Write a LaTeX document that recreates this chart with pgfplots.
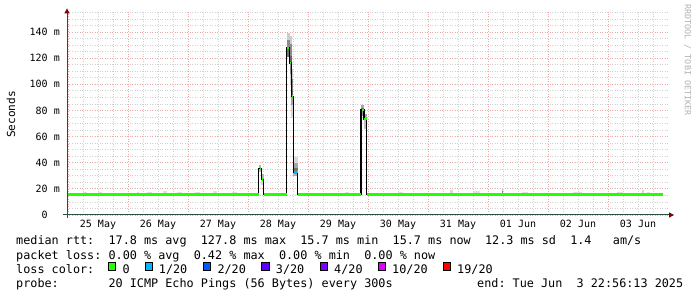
\documentclass[border=0pt]{standalone}
\usepackage{fontspec}
\usepackage{pgfplots}
\pgfplotsset{compat=1.18}
\newfontfamily\dvm{DejaVu Sans Mono}
\definecolor{mgrid}{RGB}{234,168,168}
\definecolor{ngrid}{RGB}{208,208,208}
\definecolor{axiscol}{HTML}{2C4D43}
\definecolor{arrowcol}{HTML}{7F0000}
\definecolor{lossA}{HTML}{26FF00}
\definecolor{lossB}{HTML}{00B8FF}
\definecolor{lossC}{HTML}{0059FF}
\definecolor{lossD}{HTML}{5E00FF}
\definecolor{lossE}{HTML}{7E00FF}
\definecolor{lossF}{HTML}{DD00FF}
\definecolor{lossG}{HTML}{FF0000}
\newcommand\smoke[5]{\addplot[draw=none, fill=black!#5, forget plot] coordinates {(#1,#3) (#2,#3) (#2,#4) (#1,#4)} -- cycle;}
\newcommand\legfont{\dvm\fontsize{11.8}{14}\selectfont}
\begin{document}
\frenchspacing
\begin{tikzpicture}[x=1pt,y=1pt]
\fill[white] (0,0) rectangle (697,297);
\path[use as bounding box] (0,0) rectangle (697,297);
\begin{axis}[
  at={(67pt,82pt)}, anchor=south west, scale only axis,
  width=601pt, height=202.6pt,
  xmin=-0.016667, xmax=10, ymin=0, ymax=155,
  axis line style={draw=none},
  major tick length=0pt, minor tick length=0pt,
  xtick={0,1,2,3,4,5,6,7,8,9},
  xticklabels={,,,,,,,,,},
  minor xtick={0.25,0.5,0.75,1.25,1.5,1.75,2.25,2.5,2.75,3.25,3.5,3.75,4.25,4.5,4.75,5.25,5.5,5.75,6.25,6.5,6.75,7.25,7.5,7.75,8.25,8.5,8.75,9.25,9.5,9.75},
  ytick={0,20,40,60,80,100,120,140},
  yticklabels={0\phantom{~m},20~m,40~m,60~m,80~m,100~m,120~m,140~m},
  minor ytick={5,10,15,25,30,35,45,50,55,65,70,75,85,90,95,105,110,115,125,130,135,145,150,155},
  extra x ticks={0.5,1.5,2.5,3.5,4.5,5.5,6.5,7.5,8.5,9.5},
  extra x tick labels={25 May,26 May,27 May,28 May,29 May,30 May,31 May,01 Jun,02 Jun,03 Jun},
  extra x tick style={grid=none},
  grid=both,
  major grid style={mgrid, dash pattern=on 1pt off 1.5pt, line width=0.75pt},
  minor grid style={ngrid, dash pattern=on 1pt off 1.5pt, line width=0.75pt},
  xticklabel style={font=\dvm\fontsize{10}{12}\selectfont, anchor=base, inner sep=0pt, yshift=-13pt},
  yticklabel style={font=\dvm\fontsize{10}{12}\selectfont, anchor=east, inner sep=0pt, xshift=-7pt},
  clip=false,
]
% baseline smoke
\smoke{0.25}{0.317}{15.5}{17.5}{12}
\smoke{0.40}{0.433}{15.5}{17}{12}
\smoke{0.5}{0.567}{15.5}{17.5}{12}
\smoke{0.583}{0.65}{15.5}{17}{12}
\smoke{0.75}{0.917}{15.5}{17}{12}
\smoke{1.15}{1.183}{15.5}{17.5}{12}
\smoke{1.317}{1.4}{15.5}{17.5}{12}
\smoke{1.583}{1.65}{15.5}{18.5}{12}
\smoke{1.817}{1.9}{15.5}{17.5}{12}
\smoke{1.983}{2.067}{15.5}{17}{12}
\smoke{2.117}{2.2}{15.5}{17.5}{12}
\smoke{2.417}{2.483}{15.5}{18}{12}
\smoke{2.583}{2.667}{15.5}{17}{12}
\smoke{2.733}{2.817}{15.5}{17.5}{12}
\smoke{2.917}{2.983}{15.5}{17}{12}
\smoke{3.067}{3.15}{15.5}{17}{12}
\smoke{3.9}{4.0}{15.5}{17}{12}
\smoke{4.617}{4.683}{15.5}{17.5}{12}
\smoke{5.5}{5.583}{15.5}{17.5}{12}
\smoke{6.15}{6.2}{15.5}{17}{12}
\smoke{6.25}{6.317}{15.5}{17}{12}
\smoke{6.367}{6.417}{15.5}{19.5}{15}
\smoke{6.75}{6.867}{15.5}{18}{12}
\smoke{7.067}{7.1}{15.5}{17}{12}
\smoke{7.225}{7.258}{15.5}{20.4}{20}
\smoke{7.233}{7.25}{16}{18.5}{45}
\smoke{7.567}{7.667}{15.5}{17.5}{12}
\smoke{8.083}{8.15}{15.5}{17}{12}
\smoke{8.417}{8.567}{15.5}{17.5}{12}
\smoke{9.15}{9.25}{15.5}{17.5}{12}
\smoke{9.567}{9.6}{15.5}{19.5}{15}
\smoke{9.65}{9.7}{15.5}{17.5}{12}
\smoke{9.75}{9.867}{15.5}{17}{12}
% spike 1 smoke
\smoke{3.178}{3.222}{35.7}{38.5}{30}
\smoke{3.178}{3.222}{33}{35.7}{25}
\smoke{3.222}{3.262}{27.3}{31}{30}
\smoke{3.222}{3.262}{23}{27.3}{15}
% spike 2 smoke
\smoke{3.645}{3.695}{134}{139}{20}
\smoke{3.645}{3.695}{128}{134}{45}
\smoke{3.645}{3.695}{121}{128}{55}
\smoke{3.695}{3.738}{131}{137}{20}
\smoke{3.695}{3.738}{122}{131}{45}
\smoke{3.695}{3.738}{116}{122}{60}
\smoke{3.695}{3.738}{108}{116}{45}
\smoke{3.695}{3.738}{100}{108}{20}
\smoke{3.722}{3.758}{104}{112}{20}
\smoke{3.722}{3.758}{96}{104}{50}
\smoke{3.722}{3.758}{90.5}{96}{60}
\smoke{3.722}{3.758}{84}{90.5}{35}
\smoke{3.722}{3.758}{74}{84}{15}
\smoke{3.758}{3.828}{40}{44}{15}
\smoke{3.758}{3.828}{36}{40}{35}
\smoke{3.758}{3.828}{33}{36}{55}
\smoke{3.758}{3.828}{29.5}{32.5}{30}
% spike 3 smoke
\smoke{4.883}{4.933}{82}{84}{35}
\smoke{4.883}{4.933}{80.3}{82}{55}
\smoke{4.883}{4.933}{76}{80.3}{40}
\smoke{4.933}{4.978}{73.2}{77}{35}
\smoke{4.933}{4.978}{66}{73.2}{25}
% median rtt (step line)
\addplot[const plot, black, line width=1.1pt] coordinates {
(-0.0167,15.5) (3.178,35.7) (3.222,27.3) (3.262,15.5) (3.645,127.8) (3.695,116.3) (3.722,90.5) (3.755,32.8) (3.828,15.5) (4.883,80.3) (4.933,73.2) (4.978,15.5) (9.92,15.5)};
% loss colour marks on the median
\addplot[lossA, line width=2.6pt, unbounded coords=jump] coordinates {
(3.195,35.7) (3.222,35.7) (3.23,nan) (3.23,27.3) (3.255,27.3) (3.3,nan)
(3.655,127.8) (3.683,127.8) (3.69,nan) (3.70,116.3) (3.722,116.3) (3.725,nan)
(3.727,90.5) (3.752,90.5) (3.76,nan) (3.81,33.5) (3.828,33.5) (3.85,nan)
(4.9,80.3) (4.93,80.3) (4.932,nan) (4.935,73.5) (4.975,73.5)};
\addplot[lossB, line width=2.6pt] coordinates {(3.765,32.5) (3.81,32.5)};
% loss colour 0 along the baseline
\addplot[lossA, line width=3pt, unbounded coords=jump] coordinates {
(-0.0167,15.5) (3.178,15.5) (3.2,nan) (3.262,15.5) (3.645,15.5) (3.7,nan)
(3.828,15.5) (4.883,15.5) (4.9,nan) (4.978,15.5) (9.92,15.5)};
\end{axis}
% axes with arrows
\draw[axiscol, line width=1pt] (67,79) -- (67,284);
\fill[arrowcol] (64.3,283.5) -- (69.7,283.5) -- (67,288.5) -- cycle;
\draw[axiscol, line width=1pt] (63,82) -- (669,82);
\fill[arrowcol] (669,84.7) -- (669,79.3) -- (674,82) -- cycle;
% labels
\node[rotate=90, font=\dvm\fontsize{11.1}{13}\selectfont] at (11,182.5) {Seconds};
\node[rotate=-90, font=\dvm\fontsize{8.4}{10}\selectfont, text=black!30] at (687.7,237) {RRDTOOL / TOBI OETIKER};
% legend
\node[anchor=base west, inner sep=0pt, font=\legfont] at (16,52) {median~rtt:~~17.8~ms~avg~~127.8~ms~max~~15.7~ms~min~~15.7~ms~now~~12.3~ms~sd~~1.4~~~am/s};
\node[anchor=base west, inner sep=0pt, font=\legfont] at (16,37.7) {packet~loss:~0.00~\%~avg~~0.42~\%~max~~0.00~\%~min~~0.00~\%~now};
\node[anchor=base west, inner sep=0pt, font=\legfont] at (16,23.5) {loss~color:};
\filldraw[fill=lossA, draw=black, line width=0.9pt] (108.3,27) rectangle (115.7,34.5);
\filldraw[fill=lossB, draw=black, line width=0.9pt] (145,27) rectangle (152.4,34.5);
\filldraw[fill=lossC, draw=black, line width=0.9pt] (203.3,27) rectangle (210.7,34.5);
\filldraw[fill=lossD, draw=black, line width=0.9pt] (261.7,27) rectangle (269.1,34.5);
\filldraw[fill=lossE, draw=black, line width=0.9pt] (320,27) rectangle (327.4,34.5);
\filldraw[fill=lossF, draw=black, line width=0.9pt] (378.3,27) rectangle (385.7,34.5);
\filldraw[fill=lossG, draw=black, line width=0.9pt] (443.3,27) rectangle (450.7,34.5);
\node[anchor=base west, inner sep=0pt, font=\legfont] at (122.3,23.5) {0};
\node[anchor=base west, inner sep=0pt, font=\legfont] at (158.7,23.5) {1/20};
\node[anchor=base west, inner sep=0pt, font=\legfont] at (217.3,23.5) {2/20};
\node[anchor=base west, inner sep=0pt, font=\legfont] at (275.7,23.5) {3/20};
\node[anchor=base west, inner sep=0pt, font=\legfont] at (334,23.5) {4/20};
\node[anchor=base west, inner sep=0pt, font=\legfont] at (392,23.5) {10/20};
\node[anchor=base west, inner sep=0pt, font=\legfont] at (457,23.5) {19/20};
\node[anchor=base west, inner sep=0pt, font=\legfont] at (16,9.2) {probe:~~~~~~~20~ICMP~Echo~Pings~(56~Bytes)~every~300s};
\node[anchor=base west, inner sep=0pt, font=\legfont] at (477,9.2) {end:~Tue~Jun~~3~22:56:13~2025};
\end{tikzpicture}
\end{document}
